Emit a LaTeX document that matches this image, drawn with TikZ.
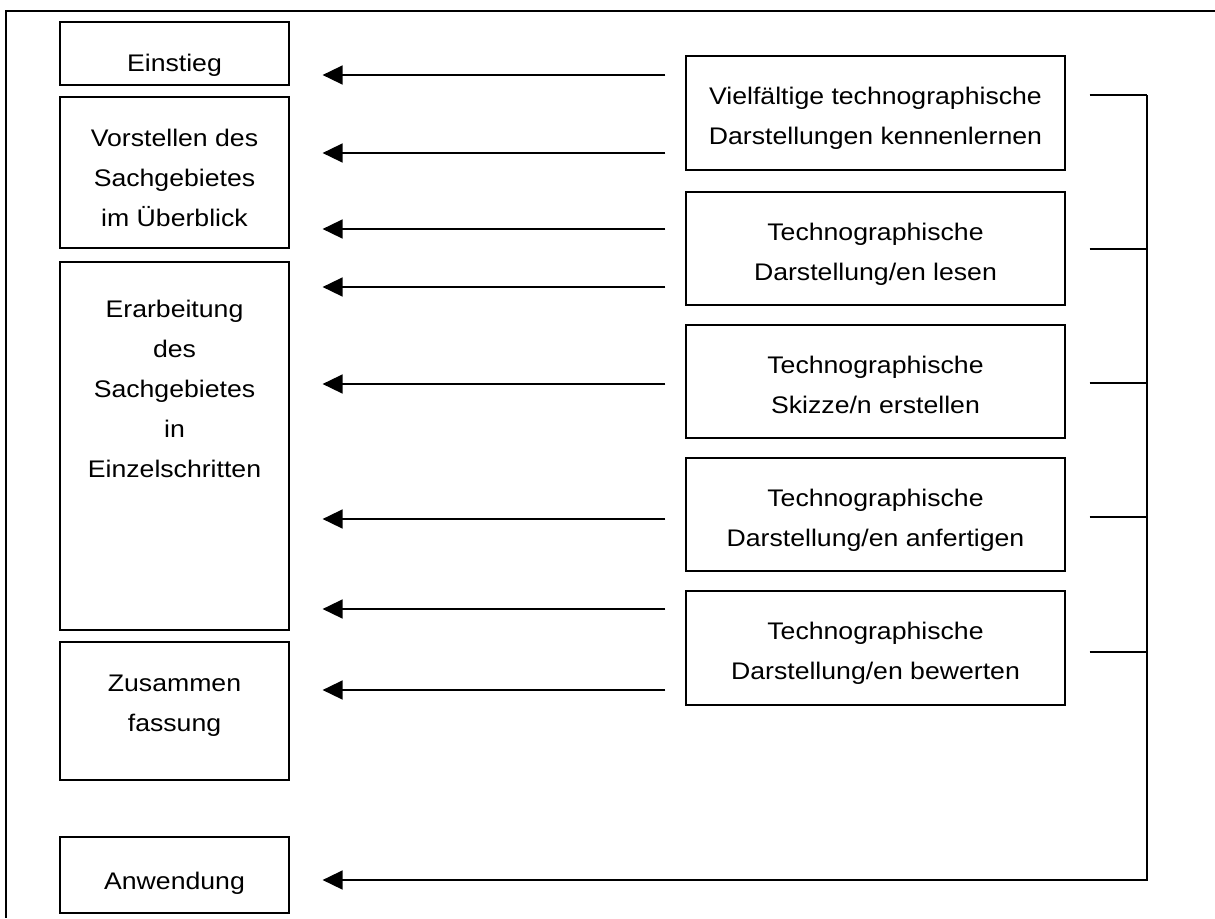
\documentclass[tikz,border=0pt]{standalone}
\usepackage{fontspec}
\setmainfont{Liberation Sans}[FakeStretch=1.11]
\usepackage{tikz}
\usetikzlibrary{arrows.meta}

\tikzset{
  stage/.style={draw,line width=1.2pt,minimum width=229pt,inner sep=0pt},
  task/.style={draw,line width=1.2pt,minimum width=379pt,minimum height=113pt,inner sep=0pt},
  txt/.style={align=center,anchor=north,inner sep=0pt,yshift=-33pt},
  flow/.style={line width=1.6pt,-{Triangle[length=20pt,width=19pt]}},
  link/.style={line width=1.6pt}
}

\begin{document}
\begin{tikzpicture}[x=1pt,y=-1pt,font=\fontsize{24}{40}\selectfont]
\useasboundingbox (0,0) rectangle (1215,918);
% frame
\draw[line width=1.8pt] (1215,11) -- (6,11) -- (6,918);

% phases of the lesson
\node[stage,minimum height=63pt,label={[txt]north:Einstieg}] (l1) at (174.5,53.5) {};
\node[stage,minimum height=151pt,label={[txt]north:{Vorstellen des\\Sachgebietes\\im Überblick}}] (l2) at (174.5,172.5) {};
\node[stage,minimum height=368pt,
  label={[txt,yshift=-6pt]north:{Erarbeitung\\des\\Sachgebietes\\in\\Einzelschritten}}] (l3) at (174.5,446) {};
\node[stage,minimum height=138pt,label={[txt]north:{Zusammen\\fassung}}] (l4) at (174.5,711) {};
\node[stage,minimum height=76pt,label={[txt,yshift=-2pt]north:Anwendung}] (l5) at (174.5,875) {};

% technographic activities
\node[task,minimum height=114pt,label={[txt,yshift=1.5pt]north:{Vielfältige technographische\\Darstellungen kennenlernen}}] (r1) at (875.5,113) {};
\node[task,label={[txt,yshift=1.5pt]north:{Technographische\\Darstellung/en lesen}}] (r2) at (875.5,248.5) {};
\node[task,label={[txt,yshift=1.5pt]north:{Technographische\\Skizze/n erstellen}}] (r3) at (875.5,381.5) {};
\node[task,label={[txt,yshift=1.5pt]north:{Technographische\\Darstellung/en anfertigen}}] (r4) at (875.5,514.5) {};
\node[task,minimum height=114pt,label={[txt,yshift=1.5pt]north:{Technographische\\Darstellung/en bewerten}}] (r5) at (875.5,648) {};

% arrow ends and the bus on the right
\coordinate (lx) at ([xshift=33pt]l1.east);
\coordinate (rx) at ([xshift=-20pt]r1.west);
\coordinate (bus) at (1147,95);

\foreach \y in {75,153,229,287,384,519,609,690}
  \draw[flow] (rx |- 0,\y) -- (lx |- 0,\y);

\foreach \n/\y in {r1/95,r2/249,r3/383,r4/517,r5/652}
  \draw[link] (\n.east |- 0,\y) ++(24,0) -- (bus |- 0,\y);

\draw[flow] (bus) -- (bus |- 0,880) -- (lx |- 0,880);
\end{tikzpicture}
\end{document}
